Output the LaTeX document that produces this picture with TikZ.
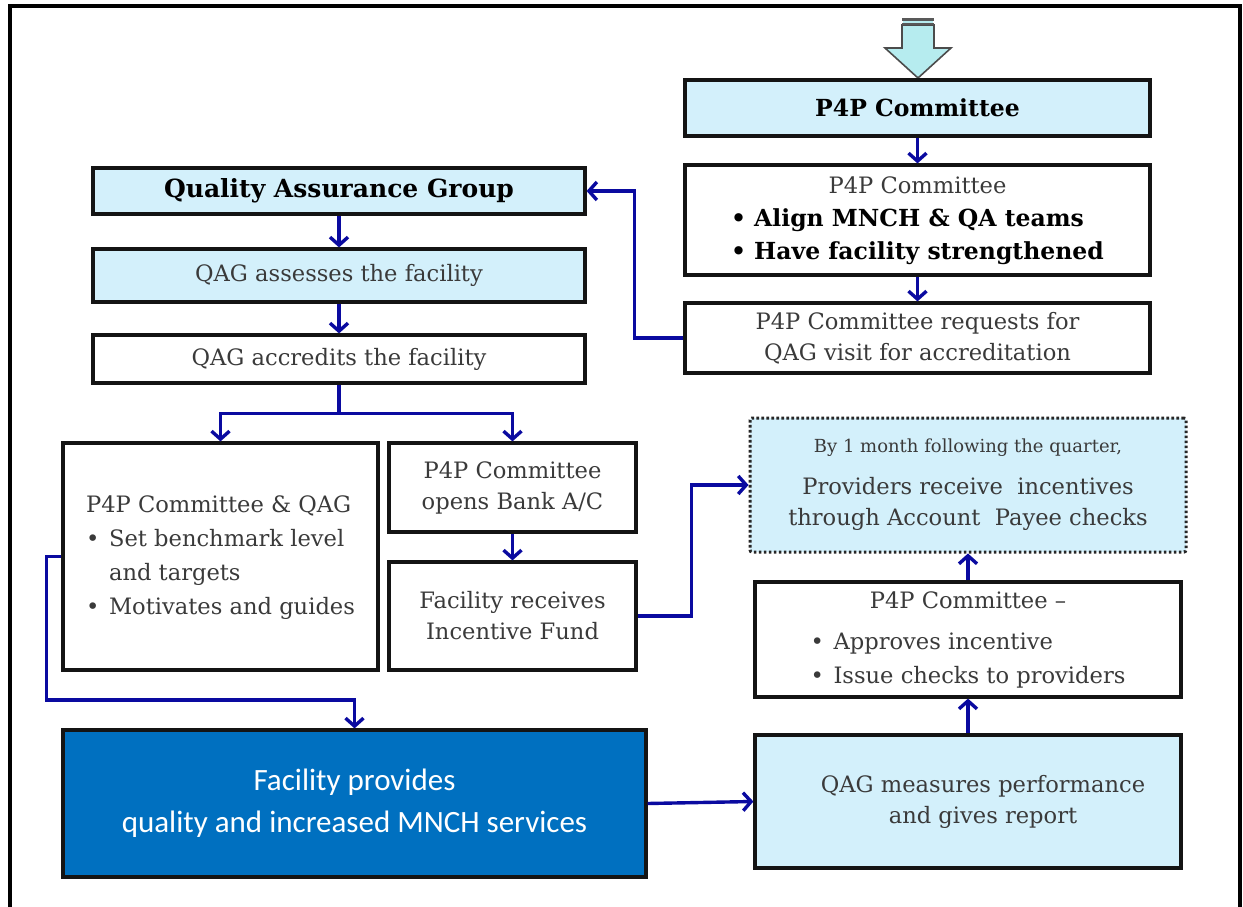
\documentclass[tikz,border=0pt]{standalone}
\usepackage{fontspec}
\setmainfont{DejaVu Serif}
\newfontfamily\calib{Carlito}
\usetikzlibrary{arrows.meta,calc}
\definecolor{lblue}{HTML}{D3F0FB}
\definecolor{dblue}{HTML}{0070C0}
\definecolor{arr}{HTML}{0A0AA0}
\definecolor{txt}{HTML}{3A3A3A}
\definecolor{arrfill}{HTML}{B6ECEF}
\newcommand\bul{\makebox[23pt][l]{\textbullet}}
\newcommand\bld[1]{{\bfseries\color{black}\fontsize{23.5}{33}\selectfont #1}}
\begin{document}
\begin{tikzpicture}[x=1pt,y=-1pt,
  box/.style={draw=black!92, line width=3.2pt, inner sep=0pt, text=txt, align=center,
    font=\fontsize{22.6}{31}\selectfont},
  lbox/.style={box, fill=lblue},
  dotbox/.style={box, fill=lblue, draw=black!85, line width=3pt, dash pattern=on 2.6pt off 2.4pt, rounded corners=2pt},
  bigbox/.style={box, fill=dblue, text=white, font=\calib\fontsize{31}{42}\selectfont},
  flow/.style={draw=arr, line width=3.4pt, -{Straight Barb[length=8pt,width=18pt,line width=3.4pt]}},
]
\useasboundingbox (0,0) rectangle (1243,907);
\fill[white] (0,0) rectangle (1243,907);
% outer frame
\draw[line width=3.2pt] (10,915) -- (10,6) -- (1240,6) -- (1240,915);

% top block arrow
\draw[draw=black!70, line width=1.6pt, fill=arrfill]
  (903,25) -- (934,25) -- (934,48) -- (951,48) -- (918,78) -- (885,48) -- (902,48) -- (902,25) -- cycle;
\fill[black!65] (902,18) rectangle (934,21.5);
\fill[black!65] (902,23) rectangle (934,25);
\fill[arrfill] (903,21.5) rectangle (933,23);

% right column
\node[lbox, minimum width=465pt, minimum height=56pt] (b1) at (917.5,108)
  {\bld{P4P Committee}};
\node[box, minimum width=465pt, minimum height=110pt] (b2) at (917.5,220)
  {\fontsize{22.6}{33}\selectfont\begin{tabular}{@{}l@{}}\multicolumn{1}{c}{P4P Committee}\\
   \bld{\bul Align MNCH \& QA teams}\\ \bld{\bul Have facility strengthened}\end{tabular}};
\node[box, minimum width=465pt, minimum height=70pt] (b3) at (917.5,338)
  {P4P Committee requests for\\QAG visit for accreditation};

% left column
\node[lbox, minimum width=492pt, minimum height=46pt] (qag) at (339,191)
  {{\bfseries\color{black}\fontsize{25}{31}\selectfont Quality Assurance Group}};
\node[lbox, minimum width=492pt, minimum height=53pt] (assess) at (339,275.5)
  {QAG assesses the facility};
\node[box, minimum width=492pt, minimum height=48pt] (accr) at (339,359)
  {QAG accredits the facility};

\node[box, minimum width=315pt, minimum height=227pt] (b7) at (220.5,556.5)
  {\fontsize{22.6}{34}\selectfont\begin{tabular}{@{}l@{}}P4P Committee \& QAG\\
   \bul Set benchmark level\\ \hspace{23pt}and targets\\ \bul Motivates and guides\end{tabular}};
\node[box, minimum width=247pt, minimum height=89pt] (b8) at (512.5,487.5)
  {\fontsize{22.6}{34}\selectfont P4P Committee\\opens Bank A/C};
\node[box, minimum width=247pt, minimum height=108pt] (b9) at (512.5,616)
  {Facility receives\\Incentive Fund};

\node[dotbox, minimum width=436pt, minimum height=134pt] (dot) at (968,485)
  {{\fontsize{18}{24}\selectfont By 1 month following the quarter,}\\[11pt]
   Providers receive\ \ incentives\\through Account\ \ Payee checks};
\node[box, minimum width=426pt, minimum height=115pt] (b11) at (968,639.5)
  {\fontsize{22.6}{34}\selectfont\begin{tabular}{@{}l@{}}\multicolumn{1}{c}{P4P Committee --}\\[7pt]
   \bul Approves incentive\\ \bul Issue checks to providers\end{tabular}};
\node[lbox, minimum width=426pt, minimum height=133pt] (b12) at (968,801.5)
  {\hspace{30pt}QAG measures performance\\\hspace{30pt}and gives report};
\node[bigbox, minimum width=583pt, minimum height=147pt] (b13) at (354.5,803.5)
  {Facility provides\\quality and increased MNCH services};

% connectors
\draw[flow] (b1.south) -- (b2.north);
\draw[flow] (b2.south) -- (b3.north);
\draw[flow] (b3.west) -- ++(-49,0) |- (qag.east);
\draw[flow] (qag.south) -- (assess.north);
\draw[flow] (assess.south) -- (accr.north);
\coordinate (split) at ($(accr.south)+(0,29)$);
\draw[flow] (accr.south) -- (split) -| (b7.north);
\draw[flow] (split) -| (b8.north);
\draw[flow] (b8.south) -- (b9.north);
\draw[flow] (b9.east) -- ++(54,0) |- (dot.west);
\draw[flow] (b7.west) -- ++(-15,0) -- ++(0,143.5) -| (b13.north);
\draw[flow] (b13.east) -- (b12.west);
\draw[flow] (b12.north) -- (b11.south);
\draw[flow] (b11.north) -- (dot.south);
\end{tikzpicture}
\end{document}
